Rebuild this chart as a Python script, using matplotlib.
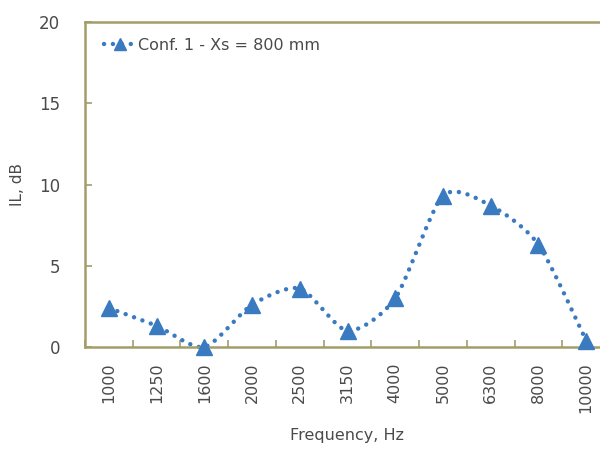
import matplotlib
matplotlib.use("Agg")
import matplotlib.pyplot as plt
import numpy as np

frequencies = ["1000", "1250", "1600", "2000", "2500", "3150", "4000", "5000", "6300", "8000", "10000"]
il_values = [2.4, 1.3, 0.0, 2.6, 3.6, 1.0, 3.0, 9.3, 8.7, 6.3, 0.4]
series_label = "Conf. 1 - Xs = 800 mm"
y_ticks = [0, 5, 10, 15, 20]

spine_color = "#a39d6a"
line_color = "#3a7ac0"
text_color = "#4a4a4a"


def smooth_path(xs, ys, n=30, k=8.0):
    # Bezier smoothing of the drawn path (like a spreadsheet "smoothed line")
    xs = np.asarray(xs, float)
    ys = np.asarray(ys, float)
    px = np.concatenate([[xs[0]], xs, [xs[-1]]])
    py = np.concatenate([[ys[0]], ys, [ys[-1]]])
    outx, outy = [], []
    t = np.linspace(0, 1, n)
    for i in range(1, len(px) - 2):
        p0x, p1x, p2x, p3x = px[i - 1], px[i], px[i + 1], px[i + 2]
        p0y, p1y, p2y, p3y = py[i - 1], py[i], py[i + 1], py[i + 2]
        c1x, c1y = p1x + (p2x - p0x) / k, p1y + (p2y - p0y) / k
        c2x, c2y = p2x - (p3x - p1x) / k, p2y - (p3y - p1y) / k
        bx = (1 - t) ** 3 * p1x + 3 * (1 - t) ** 2 * t * c1x + 3 * (1 - t) * t ** 2 * c2x + t ** 3 * p2x
        by = (1 - t) ** 3 * p1y + 3 * (1 - t) ** 2 * t * c1y + 3 * (1 - t) * t ** 2 * c2y + t ** 3 * p2y
        if i > 1:
            bx, by = bx[1:], by[1:]
        outx.extend(bx)
        outy.extend(by)
    return np.array(outx), np.array(outy)


fig = plt.figure(figsize=(6.0, 4.49), dpi=100)
W, H = 600, 449
left, right, top, bottom = 85, 610, 22, 347
ax = fig.add_axes([left / W, 1 - bottom / H, (right - left) / W, (bottom - top) / H])

dot_style = (0, (0.01, 2.0))
x = list(range(len(frequencies)))
sx, sy = smooth_path(x, il_values)
ax.plot(sx, sy, linestyle=dot_style, linewidth=3.2, dash_capstyle="round",
        color=line_color, clip_on=False)
ax.plot(x, il_values, linestyle="none", marker="^", markersize=11,
        color=line_color, clip_on=False, zorder=3)

# legend proxy
ax.plot([], [], linestyle=dot_style, linewidth=3.2, dash_capstyle="round",
        color=line_color, marker="^", markersize=9, label=series_label)

ax.set_xlim(-0.5, len(frequencies) - 0.5)
ax.set_ylim(0, 20)
ax.set_yticks(y_ticks)
ax.set_xticks(x)
ax.set_xticklabels(frequencies, rotation=90, fontsize=11.5, color=text_color)
ax.set_xticks([i + 0.5 for i in range(-1, len(frequencies))], minor=True)
ax.tick_params(axis="x", which="major", length=0, pad=11)
ax.tick_params(axis="x", which="minor", direction="in", length=5, color=spine_color, width=1.2)
ax.tick_params(axis="y", direction="in", length=5, color=spine_color, width=1.2,
               labelsize=12, labelcolor=text_color, pad=18)

for s in ax.spines.values():
    s.set_color(spine_color)
    s.set_linewidth(1.8)

ax.set_xlabel("Frequency, Hz", fontsize=11.5, color=text_color, labelpad=11)
ax.set_ylabel("IL, dB", fontsize=11, color=text_color, labelpad=10)

leg = ax.legend(loc="upper left", frameon=False, fontsize=11.5, handlelength=2.0,
                handletextpad=0.15, borderaxespad=0.6, bbox_to_anchor=(0.005, 1.0))
for t in leg.get_texts():
    t.set_color(text_color)

fig.savefig("out.png", dpi=100)
